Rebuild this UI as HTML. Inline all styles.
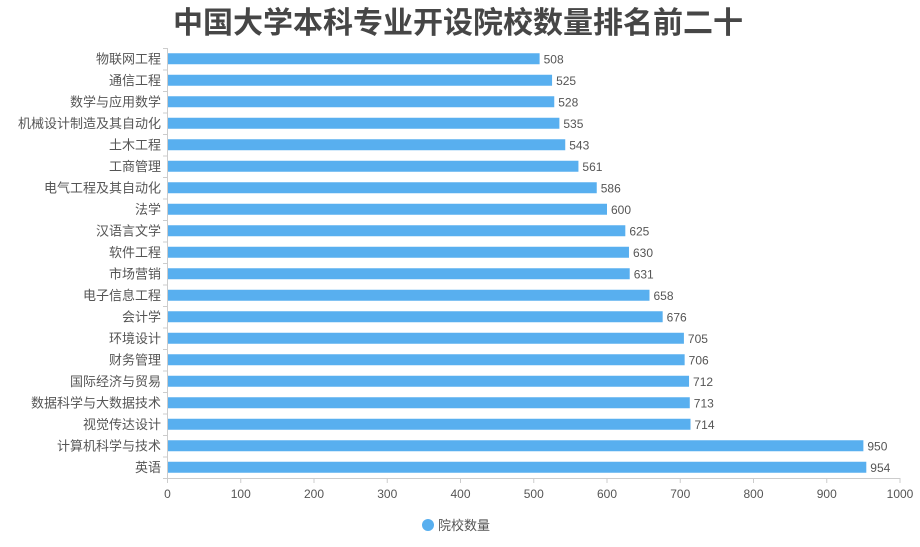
<!DOCTYPE html>
<html><head><meta charset="utf-8"><style>
body{margin:0;background:#fff;}
svg text{font-family:"Liberation Sans","Noto Sans CJK SC",sans-serif;}
</style></head><body>
<svg width="920" height="542" xmlns="http://www.w3.org/2000/svg">
<text x="458" y="33" text-anchor="middle" font-size="30" font-weight="bold" fill="#464646">中国大学本科专业开设院校数量排名前二十</text>
<g id="g"></g>
<line x1="167.5" y1="48" x2="167.5" y2="478" stroke="#ccc"/>
<line x1="167" y1="478.5" x2="900" y2="478.5" stroke="#ccc"/>
<circle cx="428" cy="525" r="6" fill="#58afef"/>
<text x="438" y="530" font-size="13" fill="#555">院校数量</text>
</svg>
<script>
var d=[["物联网工程",508],["通信工程",525],["数学与应用数学",528],["机械设计制造及其自动化",535],["土木工程",543],["工商管理",561],["电气工程及其自动化",586],["法学",600],["汉语言文学",625],["软件工程",630],["市场营销",631],["电子信息工程",658],["会计学",676],["环境设计",705],["财务管理",706],["国际经济与贸易",712],["数据科学与大数据技术",713],["视觉传达设计",714],["计算机科学与技术",950],["英语",954]];
var s="",x0=167.5,k=0.7325,h=21.5;
d.forEach(function(r,i){var c=48+h*i+h/2;var w=r[1]*k;
s+='<rect x="168" y="'+(c-5.5)+'" width="'+(w-0.5)+'" height="11" fill="#58afef"/>';
s+='<text x="161" y="'+(c+4.5)+'" text-anchor="end" font-size="13" fill="#555">'+r[0]+'</text>';
s+='<text x="'+(x0+w+4)+'" y="'+(c+4.5)+'" font-size="12" fill="#555">'+r[1]+'</text>';
s+='<line x1="163" x2="167" y1="'+(48+h*i+0.5)+'" y2="'+(48+h*i+0.5)+'" stroke="#ccc"/>';});
s+='<line x1="163" x2="167" y1="478.5" y2="478.5" stroke="#ccc"/>';
for(var v=0;v<=1000;v+=100){var x=x0+v*k;
s+='<line x1="'+x+'" x2="'+x+'" y1="478" y2="483" stroke="#ccc"/>';
s+='<text x="'+x+'" y="498" text-anchor="middle" font-size="12" fill="#555">'+v+'</text>';}
document.getElementById("g").innerHTML=s;
</script>
</body></html>
